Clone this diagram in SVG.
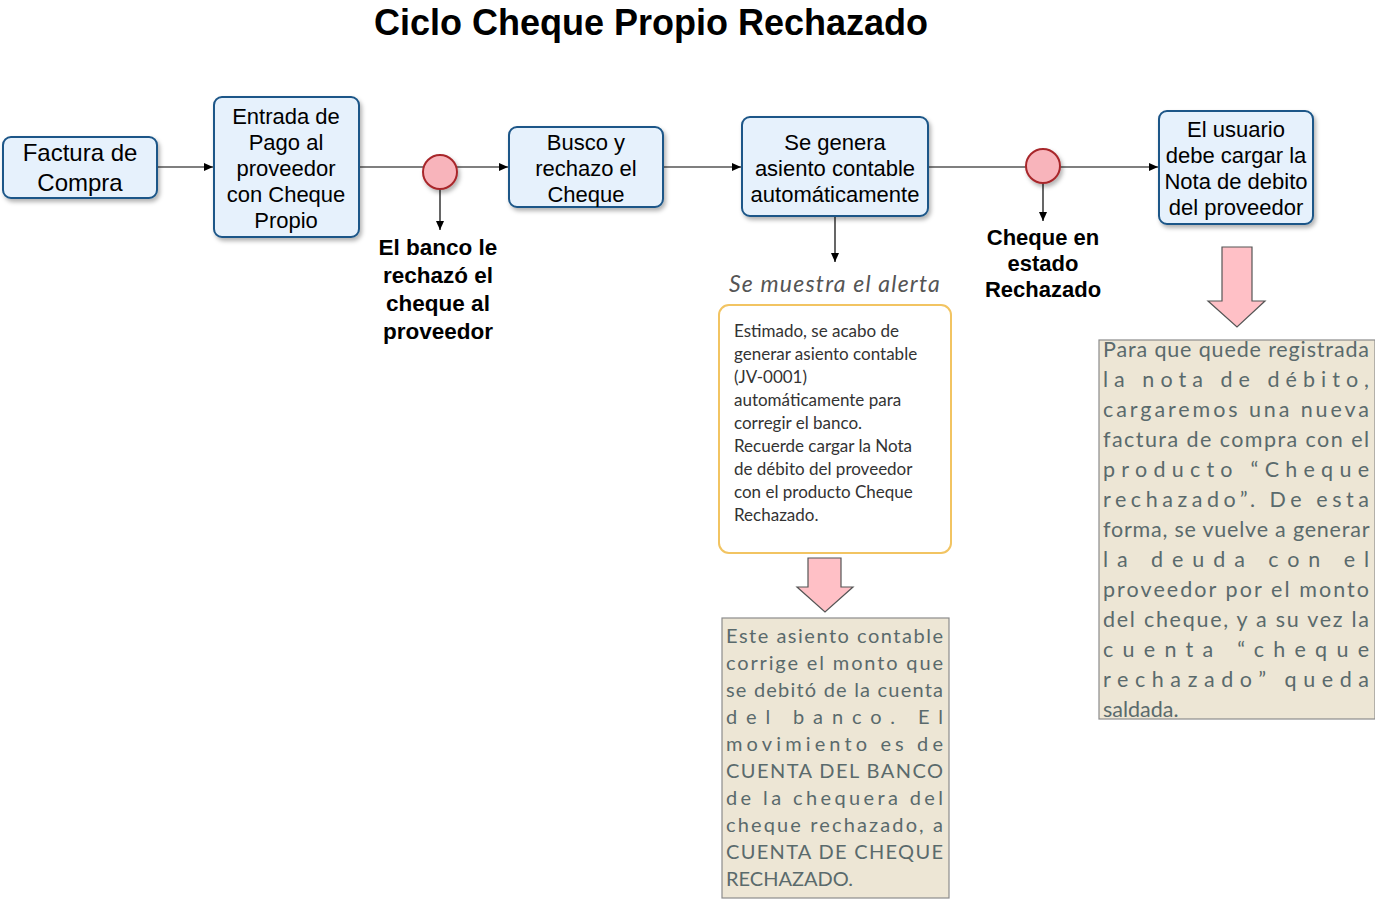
<svg xmlns="http://www.w3.org/2000/svg" width="1375" height="899" viewBox="0 0 1375 899">
<defs>
<filter id="sh" x="-20%" y="-20%" width="150%" height="150%"><feDropShadow dx="2" dy="3" stdDeviation="2" flood-color="#000" flood-opacity="0.3"/></filter>
<marker id="ah" markerWidth="10" markerHeight="8" refX="9" refY="4" orient="auto" markerUnits="userSpaceOnUse"><path d="M0,0 L9,4 L0,8 z" fill="#000"/></marker>
</defs>
<style>
.box{fill:#e6f1fc;stroke:#1c5688;stroke-width:2;filter:url(#sh)}
.nt{font-family:"Liberation Sans",Arial,sans-serif;font-size:22px;fill:#000;text-anchor:middle}
.lb{font-family:"Liberation Sans",Arial,sans-serif;font-size:22px;font-weight:bold;fill:#000;text-anchor:middle}
.ev{fill:#f8b4bb;stroke:#a8282c;stroke-width:2;filter:url(#sh)}
.cn{stroke:#000;stroke-width:1.2;fill:none;marker-end:url(#ah)}
.bar{fill:#ffc0c6;stroke:#555;stroke-width:1.2}
.note{fill:#ede6d5;stroke:#8c8c8c;stroke-width:1.2}
.nt1{font-family:Lato,"Noto Sans",sans-serif;font-size:20px;fill:#5a6a6c}
.nt2{font-family:Lato,"Noto Sans",sans-serif;font-size:21.5px;fill:#5a6a6c}
.al{font-family:Lato,"Noto Sans",sans-serif;font-size:17px;fill:#333}
</style>
<text x="651" y="35" font-family="Liberation Sans,Arial,sans-serif" font-size="36" font-weight="bold" text-anchor="middle">Ciclo Cheque Propio Rechazado</text>

<g id="connectors">
<line class="cn" x1="157" y1="167" x2="213" y2="167"/>
<line class="cn" x1="359" y1="167" x2="508" y2="167"/>
<line class="cn" x1="440" y1="188" x2="440" y2="230"/>
<line class="cn" x1="663" y1="167" x2="741" y2="167"/>
<line class="cn" x1="928" y1="167" x2="1158" y2="167"/>
<line class="cn" x1="1043" y1="183" x2="1043" y2="221"/>
<line class="cn" x1="835" y1="216" x2="835" y2="262"/>
</g>

<g id="n1"><rect class="box" x="3" y="137" width="154" height="61" rx="8"/>
<text class="nt" style="font-size:24px"><tspan x="80" y="161">Factura de</tspan><tspan x="80" y="191">Compra</tspan></text></g>

<g id="n2"><rect class="box" x="214" y="97" width="145" height="140" rx="8"/>
<text class="nt"><tspan x="286" y="124">Entrada de</tspan><tspan x="286" y="150">Pago al</tspan><tspan x="286" y="176">proveedor</tspan><tspan x="286" y="202">con Cheque</tspan><tspan x="286" y="228">Propio</tspan></text></g>

<g id="e1"><circle class="ev" cx="440" cy="172" r="17"/></g>
<g id="l1"><text class="lb" style="font-size:22.5px"><tspan x="438" y="255">El banco le</tspan><tspan x="438" y="283">rechazó el</tspan><tspan x="438" y="311">cheque al</tspan><tspan x="438" y="339">proveedor</tspan></text></g>

<g id="n3"><rect class="box" x="509" y="127" width="154" height="80" rx="8"/>
<text class="nt"><tspan x="586" y="150">Busco y</tspan><tspan x="586" y="176">rechazo el</tspan><tspan x="586" y="202">Cheque</tspan></text></g>

<g id="n4"><rect class="box" x="742" y="117" width="186" height="99" rx="8"/>
<text class="nt"><tspan x="835" y="150">Se genera</tspan><tspan x="835" y="176">asiento contable</tspan><tspan x="835" y="202">automáticamente</tspan></text></g>

<g id="l2"><text x="835" y="292" font-family="Lato,'Noto Sans',sans-serif" font-size="23" font-style="italic" fill="#555" text-anchor="middle" letter-spacing="1.2">Se muestra el alerta</text></g>

<g id="alert"><rect x="719" y="305" width="232" height="248" rx="10" fill="#fff" stroke="#f2c462" stroke-width="2"/>
<text class="al"><tspan x="734" y="337">Estimado, se acabo de</tspan><tspan x="734" y="360">generar asiento contable</tspan><tspan x="734" y="383">(JV-0001)</tspan><tspan x="734" y="406">automáticamente para</tspan><tspan x="734" y="429">corregir el banco.</tspan><tspan x="734" y="452">Recuerde cargar la Nota</tspan><tspan x="734" y="475">de débito del proveedor</tspan><tspan x="734" y="498">con el producto Cheque</tspan><tspan x="734" y="521">Rechazado.</tspan></text></g>

<g id="arrow1"><path class="bar" d="M808,558 L841,558 L841,587 L853,587 L825,612 L797,587 L808,587 Z"/></g>

<g id="note1"><rect class="note" x="722" y="618" width="227" height="280"/>
<text class="nt1">
<tspan x="726" y="643" textLength="217" lengthAdjust="spacing">Este asiento contable</tspan>
<tspan x="726" y="670" textLength="217" lengthAdjust="spacing">corrige el monto que</tspan>
<tspan x="726" y="697" textLength="217" lengthAdjust="spacing">se debitó de la cuenta</tspan>
<tspan x="726" y="724" textLength="217" lengthAdjust="spacing">del banco. El</tspan>
<tspan x="726" y="751" textLength="217" lengthAdjust="spacing">movimiento es de</tspan>
<tspan x="726" y="778" textLength="217" lengthAdjust="spacing">CUENTA DEL BANCO</tspan>
<tspan x="726" y="805" textLength="217" lengthAdjust="spacing">de la chequera del</tspan>
<tspan x="726" y="832" textLength="217" lengthAdjust="spacing">cheque rechazado, a</tspan>
<tspan x="726" y="859" textLength="217" lengthAdjust="spacing">CUENTA DE CHEQUE</tspan>
<tspan x="726" y="886">RECHAZADO.</tspan>
</text></g>

<g id="e2"><circle class="ev" cx="1043" cy="166" r="17"/></g>
<g id="l3"><text class="lb"><tspan x="1043" y="245">Cheque en</tspan><tspan x="1043" y="271">estado</tspan><tspan x="1043" y="297">Rechazado</tspan></text></g>

<g id="n5"><rect class="box" x="1159" y="111" width="154" height="113" rx="8"/>
<text class="nt"><tspan x="1236" y="137">El usuario</tspan><tspan x="1236" y="163">debe cargar la</tspan><tspan x="1236" y="189">Nota de debito</tspan><tspan x="1236" y="215">del proveedor</tspan></text></g>

<g id="arrow2"><path class="bar" d="M1222,247 L1252,247 L1252,301 L1265,301 L1237,327 L1208,301 L1222,301 Z"/></g>

<g id="note2"><rect class="note" x="1099" y="340" width="276" height="379"/>
<text class="nt2">
<tspan x="1103" y="357" textLength="266" lengthAdjust="spacing">Para que quede registrada</tspan>
<tspan x="1103" y="387" textLength="266" lengthAdjust="spacing">la nota de débito,</tspan>
<tspan x="1103" y="417" textLength="266" lengthAdjust="spacing">cargaremos una nueva</tspan>
<tspan x="1103" y="447" textLength="266" lengthAdjust="spacing">factura de compra con el</tspan>
<tspan x="1103" y="477" textLength="266" lengthAdjust="spacing">producto “Cheque</tspan>
<tspan x="1103" y="507" textLength="266" lengthAdjust="spacing">rechazado”. De esta</tspan>
<tspan x="1103" y="537" textLength="266" lengthAdjust="spacing">forma, se vuelve a generar</tspan>
<tspan x="1103" y="567" textLength="266" lengthAdjust="spacing">la deuda con el</tspan>
<tspan x="1103" y="597" textLength="266" lengthAdjust="spacing">proveedor por el monto</tspan>
<tspan x="1103" y="627" textLength="266" lengthAdjust="spacing">del cheque, y a su vez la</tspan>
<tspan x="1103" y="657" textLength="266" lengthAdjust="spacing">cuenta “cheque</tspan>
<tspan x="1103" y="687" textLength="266" lengthAdjust="spacing">rechazado” queda</tspan>
<tspan x="1103" y="717">saldada.</tspan>
</text></g>
</svg>
